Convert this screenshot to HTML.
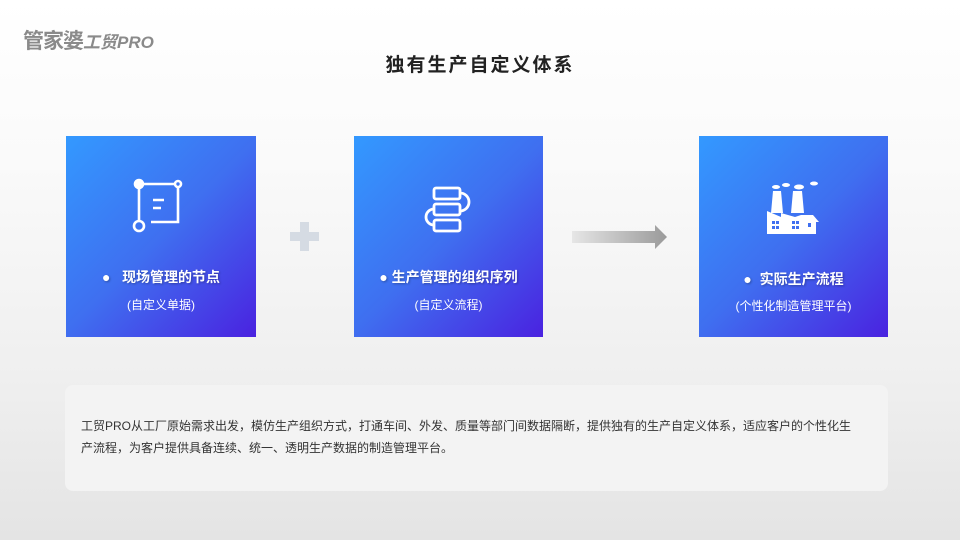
<!DOCTYPE html>
<html><head><meta charset="utf-8"><style>
*{margin:0;padding:0;box-sizing:border-box}
body{width:960px;height:540px;overflow:hidden;position:relative;font-family:"Liberation Sans","Noto Sans CJK SC",sans-serif;background:linear-gradient(180deg,#ffffff 0%,#fafafa 30%,#efefef 70%,#e4e4e4 100%)}
.logo{position:absolute;left:23px;top:25px;color:#8a8a8a;font-weight:bold;font-size:21px;letter-spacing:-1px}
.logo i{font-size:17px;font-style:italic;letter-spacing:0}
.title{position:absolute;left:0;width:960px;top:50px;text-align:center;font-size:19px;font-weight:bold;color:#222;letter-spacing:2px}
.card{position:absolute;top:136px;height:201px;background:linear-gradient(135deg,#3399ff 0%,#3f6ff0 50%,#4a22e0 100%);color:#fff;text-align:center}
.card .h{position:absolute;top:131px;left:0;width:100%;font-size:14px;font-weight:bold;text-shadow:1px 1px 2px rgba(0,0,0,.3)}
.card .s{position:absolute;top:160px;left:0;width:100%;font-size:12px}
.card svg{position:absolute;left:50%;transform:translateX(-50%);top:40px}
.box{position:absolute;left:65px;top:385px;width:823px;height:106px;background:#f3f3f3;border-radius:8px}
.box p{position:absolute;left:16px;top:30px;font-size:12px;line-height:22px;color:#333;white-space:nowrap}
</style></head><body>
<div class="logo">管家婆<i>工贸PRO</i></div>
<div class="title">独有生产自定义体系</div>

<div class="card" style="left:66px;width:190px">
<svg width="60" height="60" viewBox="0 0 60 60" style="top:40px"><g fill="none" stroke="#fff" stroke-width="2.6"><circle cx="8" cy="8" r="4" fill="#fff"/><circle cx="47" cy="8" r="3"/><circle cx="8" cy="50" r="5"/><path d="M8 12V45M12 8H44M47 11V46H20M22 24H33M22 32H30"/></g></svg>
<div class="h">●&nbsp;&nbsp;&nbsp;现场管理的节点</div>
<div class="s">(自定义单据)</div>
</div>

<svg style="position:absolute;left:290px;top:222px" width="30" height="30"><path d="M10 0h9v10h10v9H19v10h-9V19H0v-9h10z" fill="#d5dbe3"/></svg>

<div class="card" style="left:354px;width:189px">
<svg width="60" height="60" viewBox="0 0 60 60" style="top:44px"><g fill="none" stroke="#fff" stroke-width="2.8"><rect x="15" y="8" width="26" height="11" rx="2"/><rect x="15" y="24" width="26" height="11" rx="2"/><rect x="15" y="40" width="26" height="11" rx="2"/><path d="M41 13a9 9 0 0 1 0 18M15 29a8 8 0 0 0 0 16"/></g></svg>
<div class="h">●&nbsp;生产管理的组织序列</div>
<div class="s">(自定义流程)</div>
</div>

<svg style="position:absolute;left:572px;top:225px" width="96" height="24"><defs><linearGradient id="g"><stop offset="0" stop-color="#e6e6e6"/><stop offset="1" stop-color="#9a9a9a"/></linearGradient></defs><path d="M0 6h83V0l12 12-12 12v-6H0z" fill="url(#g)"/></svg>

<div class="card" style="left:699px;width:189px">
<svg width="60" height="60" viewBox="0 0 60 60" style="top:45px"><g fill="#fff"><ellipse cx="12" cy="6" rx="4" ry="2"/><ellipse cx="22" cy="4" rx="4" ry="2"/><ellipse cx="35" cy="6" rx="5" ry="2.5"/><ellipse cx="50" cy="2.5" rx="4" ry="2"/><path d="M9 10h8l2 22H7zM29 10h9l2 22H27z"/><path d="M3 53V30l14 6v-4l14 4 6-2h12l6 7h-3v12z"/></g><g fill="#3f6ff0"><rect x="8" y="40" width="3" height="3"/><rect x="12" y="40" width="3" height="3"/><rect x="8" y="45" width="3" height="3"/><rect x="12" y="45" width="3" height="3"/><rect x="28" y="40" width="3" height="3"/><rect x="32" y="40" width="3" height="3"/><rect x="28" y="45" width="3" height="3"/><rect x="32" y="45" width="3" height="3"/><rect x="44" y="42" width="3" height="4"/></g></svg>
<div class="h" style="top:133px">●&nbsp;&nbsp;实际生产流程</div>
<div class="s" style="top:161px">(个性化制造管理平台)</div>
</div>

<div class="box"><p>工贸PRO从工厂原始需求出发，模仿生产组织方式，打通车间、外发、质量等部门间数据隔断，提供独有的生产自定义体系，适应客户的个性化生<br>产流程，为客户提供具备连续、统一、透明生产数据的制造管理平台。</p></div>
</body></html>
